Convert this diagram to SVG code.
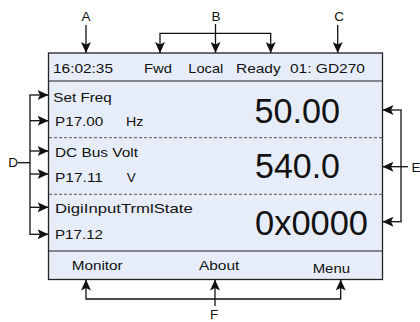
<svg xmlns="http://www.w3.org/2000/svg" width="420" height="322" viewBox="0 0 420 322">
<style>
.t{font-family:"Liberation Sans",Arial,sans-serif;font-size:13.5px;fill:#111}
.big{font-family:"Liberation Sans",Arial,sans-serif;font-size:35px;fill:#111}
.lbl{font-family:"Liberation Sans",Arial,sans-serif;font-size:13.5px;fill:#111}
.ln{stroke:#111;stroke-width:1.3;fill:none}
.arr{stroke:#111;stroke-width:1.3;fill:none;marker-end:url(#ah)}
.dash{stroke:#555;stroke-width:1;stroke-dasharray:3 2;fill:none}
</style>
<defs>
<marker id="ah" viewBox="0 0 11 10" refX="11" refY="5" markerWidth="11" markerHeight="10" markerUnits="userSpaceOnUse" orient="auto">
<path d="M0,0 L11,5 L0,10 L2.5,5 Z" fill="#111"/>
</marker>
</defs>
<rect width="420" height="322" fill="#fff"/>
<g id="screen">
<rect x="48.5" y="53" width="334" height="226.5" fill="#e6edf8" stroke="#222" stroke-width="1.3"/>
<line x1="48.5" y1="81" x2="382.5" y2="81" stroke="#222" stroke-width="1.2"/>
<line x1="48.5" y1="251" x2="382.5" y2="251" stroke="#222" stroke-width="1.2"/>
<line class="dash" x1="49" y1="137.7" x2="382" y2="137.7"/>
<line class="dash" x1="49" y1="194.3" x2="382" y2="194.3"/>
</g>
<g id="header">
<text class="t" x="53" y="72.5" textLength="60" lengthAdjust="spacingAndGlyphs">16:02:35</text>
<text class="t" x="144" y="72.5" textLength="28" lengthAdjust="spacingAndGlyphs">Fwd</text>
<text class="t" x="188.3" y="72.5" textLength="35" lengthAdjust="spacingAndGlyphs">Local</text>
<text class="t" x="236" y="72.5" textLength="44.7" lengthAdjust="spacingAndGlyphs">Ready</text>
<text class="t" x="290" y="72.5" textLength="75" lengthAdjust="spacingAndGlyphs">01: GD270</text>
</g>
<g id="row1">
<text class="t" x="53.3" y="101.7" textLength="58.4" lengthAdjust="spacingAndGlyphs">Set Freq</text>
<text class="t" x="55" y="126" textLength="48.3" lengthAdjust="spacingAndGlyphs">P17.00</text>
<text class="t" x="126" y="126" textLength="17.3" lengthAdjust="spacingAndGlyphs">Hz</text>
<text class="big" x="254.5" y="122.5" textLength="85.5" lengthAdjust="spacingAndGlyphs">50.00</text>
</g>
<g id="row2">
<text class="t" x="55" y="157.3" textLength="83" lengthAdjust="spacingAndGlyphs">DC Bus Volt</text>
<text class="t" x="55" y="181.7" textLength="48" lengthAdjust="spacingAndGlyphs">P17.11</text>
<text class="t" x="126.7" y="181.7">V</text>
<text class="big" x="255" y="177.5" textLength="85" lengthAdjust="spacingAndGlyphs">540.0</text>
</g>
<g id="row3">
<text class="t" x="55" y="213.3" textLength="137.7" lengthAdjust="spacingAndGlyphs">DigiInputTrmlState</text>
<text class="t" x="55" y="239.3" textLength="48" lengthAdjust="spacingAndGlyphs">P17.12</text>
<text class="big" x="255" y="235" textLength="113" lengthAdjust="spacingAndGlyphs">0x0000</text>
</g>
<g id="footer">
<text class="t" x="71.7" y="270" textLength="51" lengthAdjust="spacingAndGlyphs">Monitor</text>
<text class="t" x="199" y="270" textLength="40.3" lengthAdjust="spacingAndGlyphs">About</text>
<text class="t" x="312.7" y="273" textLength="37.3" lengthAdjust="spacingAndGlyphs">Menu</text>
</g>
<g id="label-A"><text class="lbl" x="86" y="20.7" text-anchor="middle">A</text></g>
<g id="label-B"><text class="lbl" x="216" y="20.7" text-anchor="middle">B</text></g>
<g id="label-C"><text class="lbl" x="339" y="20.7" text-anchor="middle">C</text></g>
<g id="label-D"><text class="lbl" x="8.3" y="167.3">D</text></g>
<g id="label-E"><text class="lbl" x="411.5" y="171.5">E</text></g>
<g id="label-F"><text class="lbl" x="214" y="319" text-anchor="middle">F</text></g>
<g id="connectors">
<line class="arr" x1="86" y1="25" x2="86" y2="53"/>
<line class="arr" x1="337.7" y1="25" x2="337.7" y2="53"/>
<line class="arr" x1="215.5" y1="24" x2="215.5" y2="53"/>
<polyline class="arr" points="215.5,33.3 160,33.3 160,53"/>
<polyline class="arr" points="215.5,33.3 270.7,33.3 270.7,53"/>
<line class="ln" x1="401" y1="110" x2="401" y2="221.7"/>
<line class="arr" x1="401.6" y1="110" x2="382.5" y2="110"/>
<line class="arr" x1="408" y1="166.7" x2="382.5" y2="166.7"/>
<line class="arr" x1="401.6" y1="221.7" x2="382.5" y2="221.7"/>
<line class="ln" x1="30" y1="95" x2="30" y2="234.3"/>
<line class="ln" x1="17.5" y1="162.7" x2="30" y2="162.7"/>
<line class="arr" x1="29.4" y1="95" x2="48.5" y2="95"/>
<line class="arr" x1="30" y1="120.7" x2="48.5" y2="120.7"/>
<line class="arr" x1="30" y1="151" x2="48.5" y2="151"/>
<line class="arr" x1="30" y1="174" x2="48.5" y2="174"/>
<line class="arr" x1="30" y1="207.3" x2="48.5" y2="207.3"/>
<line class="arr" x1="29.4" y1="234.3" x2="48.5" y2="234.3"/>
<line class="arr" x1="215" y1="306" x2="215" y2="279.5"/>
<polyline class="arr" points="215,299 86,299 86,279.5"/>
<polyline class="arr" points="215,299 340.7,299 340.7,279.5"/>
</g>
</svg>
